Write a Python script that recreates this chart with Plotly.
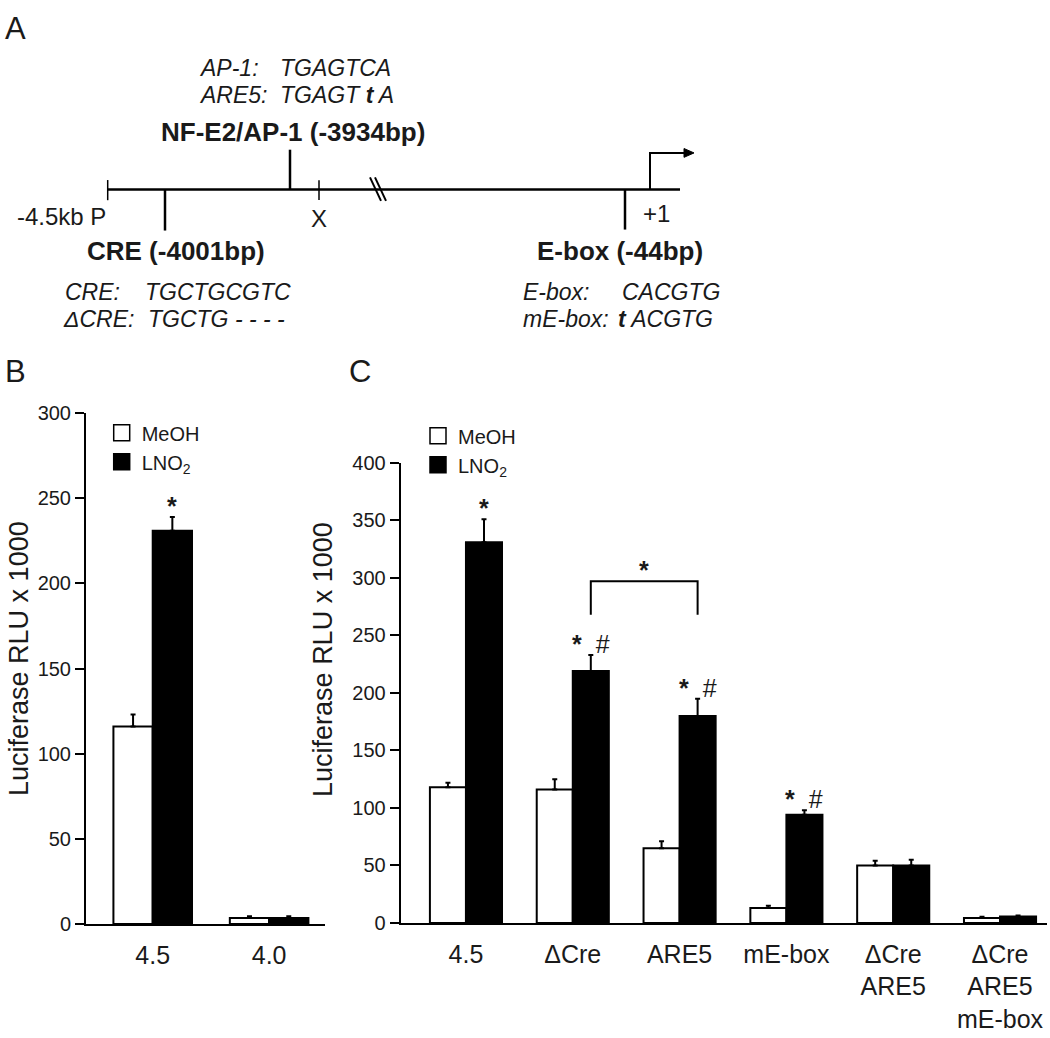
import plotly.graph_objects as go

W, H = 1050, 1038
FONT = "Liberation Sans, Arial, Helvetica, sans-serif"
INK = "#1a1a1a"

# ---------------- data ----------------
series_names = ["MeOH", "LNO<sub>2</sub>"]

b_categories = ["4.5", "4.0"]
b_meoh = [116, 3.5]
b_meoh_err = [7, 1]
b_lno2 = [231, 3.5]
b_lno2_err = [8, 1]
b_marks = ["<b>*</b>", ""]         # marks above LNO2 bars
b_yticks = [0, 50, 100, 150, 200, 250, 300]

c_categories = ["4.5", "ΔCre", "ARE5", "mE-box", "ΔCre ARE5", "ΔCre ARE5 mE-box"]
c_ticktext = ["4.5", "ΔCre", "ARE5", "mE-box", "ΔCre<br>ARE5", "ΔCre<br>ARE5<br>mE-box"]
c_meoh = [118, 116, 65, 13, 50, 4.3]
c_meoh_err = [4, 9, 6, 2, 4, 1]
c_lno2 = [331, 219, 180, 94, 50, 5.5]
c_lno2_err = [20, 14, 15, 4, 5, 1]
c_marks = ["<b>*</b>", "<b>*</b>  #", "<b>*</b>  #", "<b>*</b>  #", "", ""]
c_bracket_pair = ["ΔCre", "ARE5"]
c_bracket_level = 297
c_yticks = [0, 50, 100, 150, 200, 250, 300, 350, 400]

y_title = "Luciferase RLU x 1000"

# ---------------- helpers ----------------
def PX(x):
    return x / W

def PY(y):
    return 1 - y / H

BARGAP = 0.325
OFF = (1 - BARGAP) / 4  # centre offset of each bar in a 2-bar group

fig = go.Figure()

def add_bars(cats, vals, errs, fill, xa, ya, name):
    fig.add_trace(go.Bar(
        x=cats, y=vals, name=name, showlegend=False,
        marker=dict(color=fill, line=dict(color="black", width=2)),
        error_y=dict(type="data", array=errs, arrayminus=[0] * len(errs),
                     symmetric=False, color="black", thickness=2, width=2.5),
        xaxis=xa, yaxis=ya))

add_bars(b_categories, b_meoh, b_meoh_err, "white", "x", "y", "MeOH")
add_bars(b_categories, b_lno2, b_lno2_err, "black", "x", "y", "LNO2")
add_bars(c_categories, c_meoh, c_meoh_err, "white", "x2", "y2", "MeOH")
add_bars(c_categories, c_lno2, c_lno2_err, "black", "x2", "y2", "LNO2")

# legend entries (one legend per panel)
for lg, xa, ya in [("legend", "x", "y"), ("legend2", "x2", "y2")]:
    for nm, fill in zip(series_names, ["white", "black"]):
        fig.add_trace(go.Scatter(
            x=[None], y=[None], mode="markers", name=nm, legend=lg,
            marker=dict(symbol="square", size=16, color=fill,
                        line=dict(color="black", width=1.5)),
            xaxis=xa, yaxis=ya, hoverinfo="skip"))

axis_common = dict(showline=True, linecolor="black", linewidth=2,
                   showgrid=False, zeroline=False)

fig.update_layout(
    width=W, height=H, margin=dict(l=0, r=0, t=0, b=0),
    paper_bgcolor="white", plot_bgcolor="white",
    barmode="group", bargap=BARGAP, bargroupgap=0,
    font=dict(family=FONT, color=INK),
    xaxis=dict(domain=[PX(86), PX(325)], range=[-0.573, 1.48], type="category",
               categoryorder="array", categoryarray=b_categories, anchor="y",
               ticks="", tickfont=dict(size=25, color=INK), ticklabelstandoff=8,
               **axis_common),
    yaxis=dict(domain=[PY(932.7), PY(411)], range=[0, 300], anchor="x",
               tickvals=b_yticks, ticks="outside", ticklen=9, tickwidth=1.5,
               tickcolor="black", tickfont=dict(size=20, color=INK), **axis_common),
    xaxis2=dict(domain=[PX(400.7), PX(1046.7)], range=[-0.611, 5.437], type="category",
                categoryorder="array", categoryarray=c_categories, anchor="y2",
                tickvals=c_categories, ticktext=c_ticktext,
                ticks="", tickfont=dict(size=25, color=INK), ticklabelstandoff=8,
                **axis_common),
    yaxis2=dict(domain=[PY(931.7), PY(461.7)], range=[0, 400], anchor="x2",
                tickvals=c_yticks, ticks="outside", ticklen=9, tickwidth=1.5,
                tickcolor="black", tickfont=dict(size=20, color=INK), **axis_common),
    legend=dict(x=PX(101.7), y=PY(411), xanchor="left", yanchor="top",
                font=dict(size=20, color=INK), bgcolor="rgba(0,0,0,0)",
                tracegroupgap=0, itemclick=False),
    legend2=dict(x=PX(418), y=PY(414), xanchor="left", yanchor="top",
                 font=dict(size=20, color=INK), bgcolor="rgba(0,0,0,0)",
                 tracegroupgap=0, itemclick=False),
)

ann = []

def text(x, y, t, size=24, xanchor="center", yanchor="middle", angle=0, **kw):
    ann.append(dict(x=PX(x), y=PY(y), xref="paper", yref="paper", text=t,
                    showarrow=False, xanchor=xanchor, yanchor=yanchor,
                    textangle=angle, font=dict(size=size, color=INK, family=FONT), **kw))

MARK_FONT = dict(size=25, color=INK, family=FONT)

# significance marks above LNO2 bars
for i, m in enumerate(b_marks):
    if m:
        ann.append(dict(x=i + OFF, y=b_lno2[i] + b_lno2_err[i], xref="x", yref="y",
                        text=m, showarrow=False, yanchor="bottom", yshift=-5,
                        font=MARK_FONT))
for i, m in enumerate(c_marks):
    if m:
        ann.append(dict(x=i + OFF, y=c_lno2[i] + c_lno2_err[i], xref="x2", yref="y2",
                        text=m, showarrow=False, yanchor="bottom", yshift=-5,
                        font=MARK_FONT))

# bracket between two LNO2 bars
i1 = c_categories.index(c_bracket_pair[0]) + OFF
i2 = c_categories.index(c_bracket_pair[1]) + OFF
leg_bottom = c_bracket_level - 29
shapes = [dict(type="path", xref="x2", yref="y2",
               path=f"M {i1},{leg_bottom} L {i1},{c_bracket_level} L {i2},{c_bracket_level} L {i2},{leg_bottom}",
               line=dict(color="black", width=2))]
ann.append(dict(x=(i1 + i2) / 2, y=c_bracket_level, xref="x2", yref="y2", text="<b>*</b>",
                showarrow=False, yanchor="bottom", yshift=-5, font=MARK_FONT))

# axis titles
text(19, 662, y_title, size=27, angle=-90)
text(323, 663, y_title, size=27, angle=-90)

# panel letters
text(15, 18, "A", size=31)
text(15, 368, "B", size=31)
text(360, 368, "C", size=31)

# ---------------- panel A: promoter diagram ----------------
def line(x0, y0, x1, y1, w=2.5):
    shapes.append(dict(type="line", xref="paper", yref="paper",
                       x0=PX(x0), y0=PY(y0), x1=PX(x1), y1=PY(y1),
                       line=dict(color="black", width=w)))

LINE_Y = 182.3
line(107.7, LINE_Y, 680, LINE_Y, 2.5)          # promoter
line(107.7, 172.7, 107.7, 193.3, 1.5)          # -4.5kb P tick
line(319, 173, 319, 193, 1.5)                  # X tick
line(290, LINE_Y, 290, 141.7, 2.5)             # NF-E2/AP-1
line(165, LINE_Y, 165, 224.3, 2.5)             # CRE
line(625, LINE_Y, 625, 223.3, 2.5)             # E-box
line(370, 170, 381, 194, 2)                    # break
line(375, 170, 386, 194, 2)
# transcription start arrow
shapes.append(dict(type="path", xref="paper", yref="paper",
                   path=f"M {PX(650)},{PY(LINE_Y)} L {PX(650)},{PY(145)} L {PX(686)},{PY(145)}",
                   line=dict(color="black", width=2)))
shapes.append(dict(type="path", xref="paper", yref="paper",
                   path=f"M {PX(694)},{PY(145)} L {PX(684)},{PY(140.5)} L {PX(684)},{PY(149.5)} Z",
                   fillcolor="black", line=dict(color="black", width=1)))

text(197, 58.3, "<i>AP-1:</i>", 23, xanchor="left")
text(278, 58.3, "<i>TGAGTCA</i>", 23, xanchor="left")
text(197, 86, "<i>ARE5:</i>", 23, xanchor="left")
text(278, 86, "<i>TGAGT <b>t</b> A</i>", 23, xanchor="left")
text(293, 123.3, "<b>NF-E2/AP-1 (-3934bp)</b>", 26)
text(15, 210, "-4.5kb P", 24, xanchor="left")
text(319, 211.7, "X", 24)
text(656.7, 206.7, "+1", 24)
text(175.5, 245, "<b>CRE (-4001bp)</b>", 26)
text(620, 245, "<b>E-box (-44bp)</b>", 26)
text(63, 286.7, "<i>CRE:</i>", 23, xanchor="left")
text(143, 286.7, "<i>TGCTGCGTC</i>", 23, xanchor="left")
text(61, 315, "<i>ΔCRE:</i>", 23, xanchor="left")
text(146, 315, "<i>TGCTG - - - -</i>", 23, xanchor="left")
text(521, 286.7, "<i>E-box:</i>", 23, xanchor="left")
text(620, 286.7, "<i>CACGTG</i>", 23, xanchor="left")
text(521, 315, "<i>mE-box:</i>", 23, xanchor="left")
text(616, 315, "<i><b>t</b> ACGTG</i>", 23, xanchor="left")

fig.update_layout(annotations=ann, shapes=shapes)

fig.write_html("out.html", config={"displayModeBar": False},
               post_script="document.body.style.margin='0';")
